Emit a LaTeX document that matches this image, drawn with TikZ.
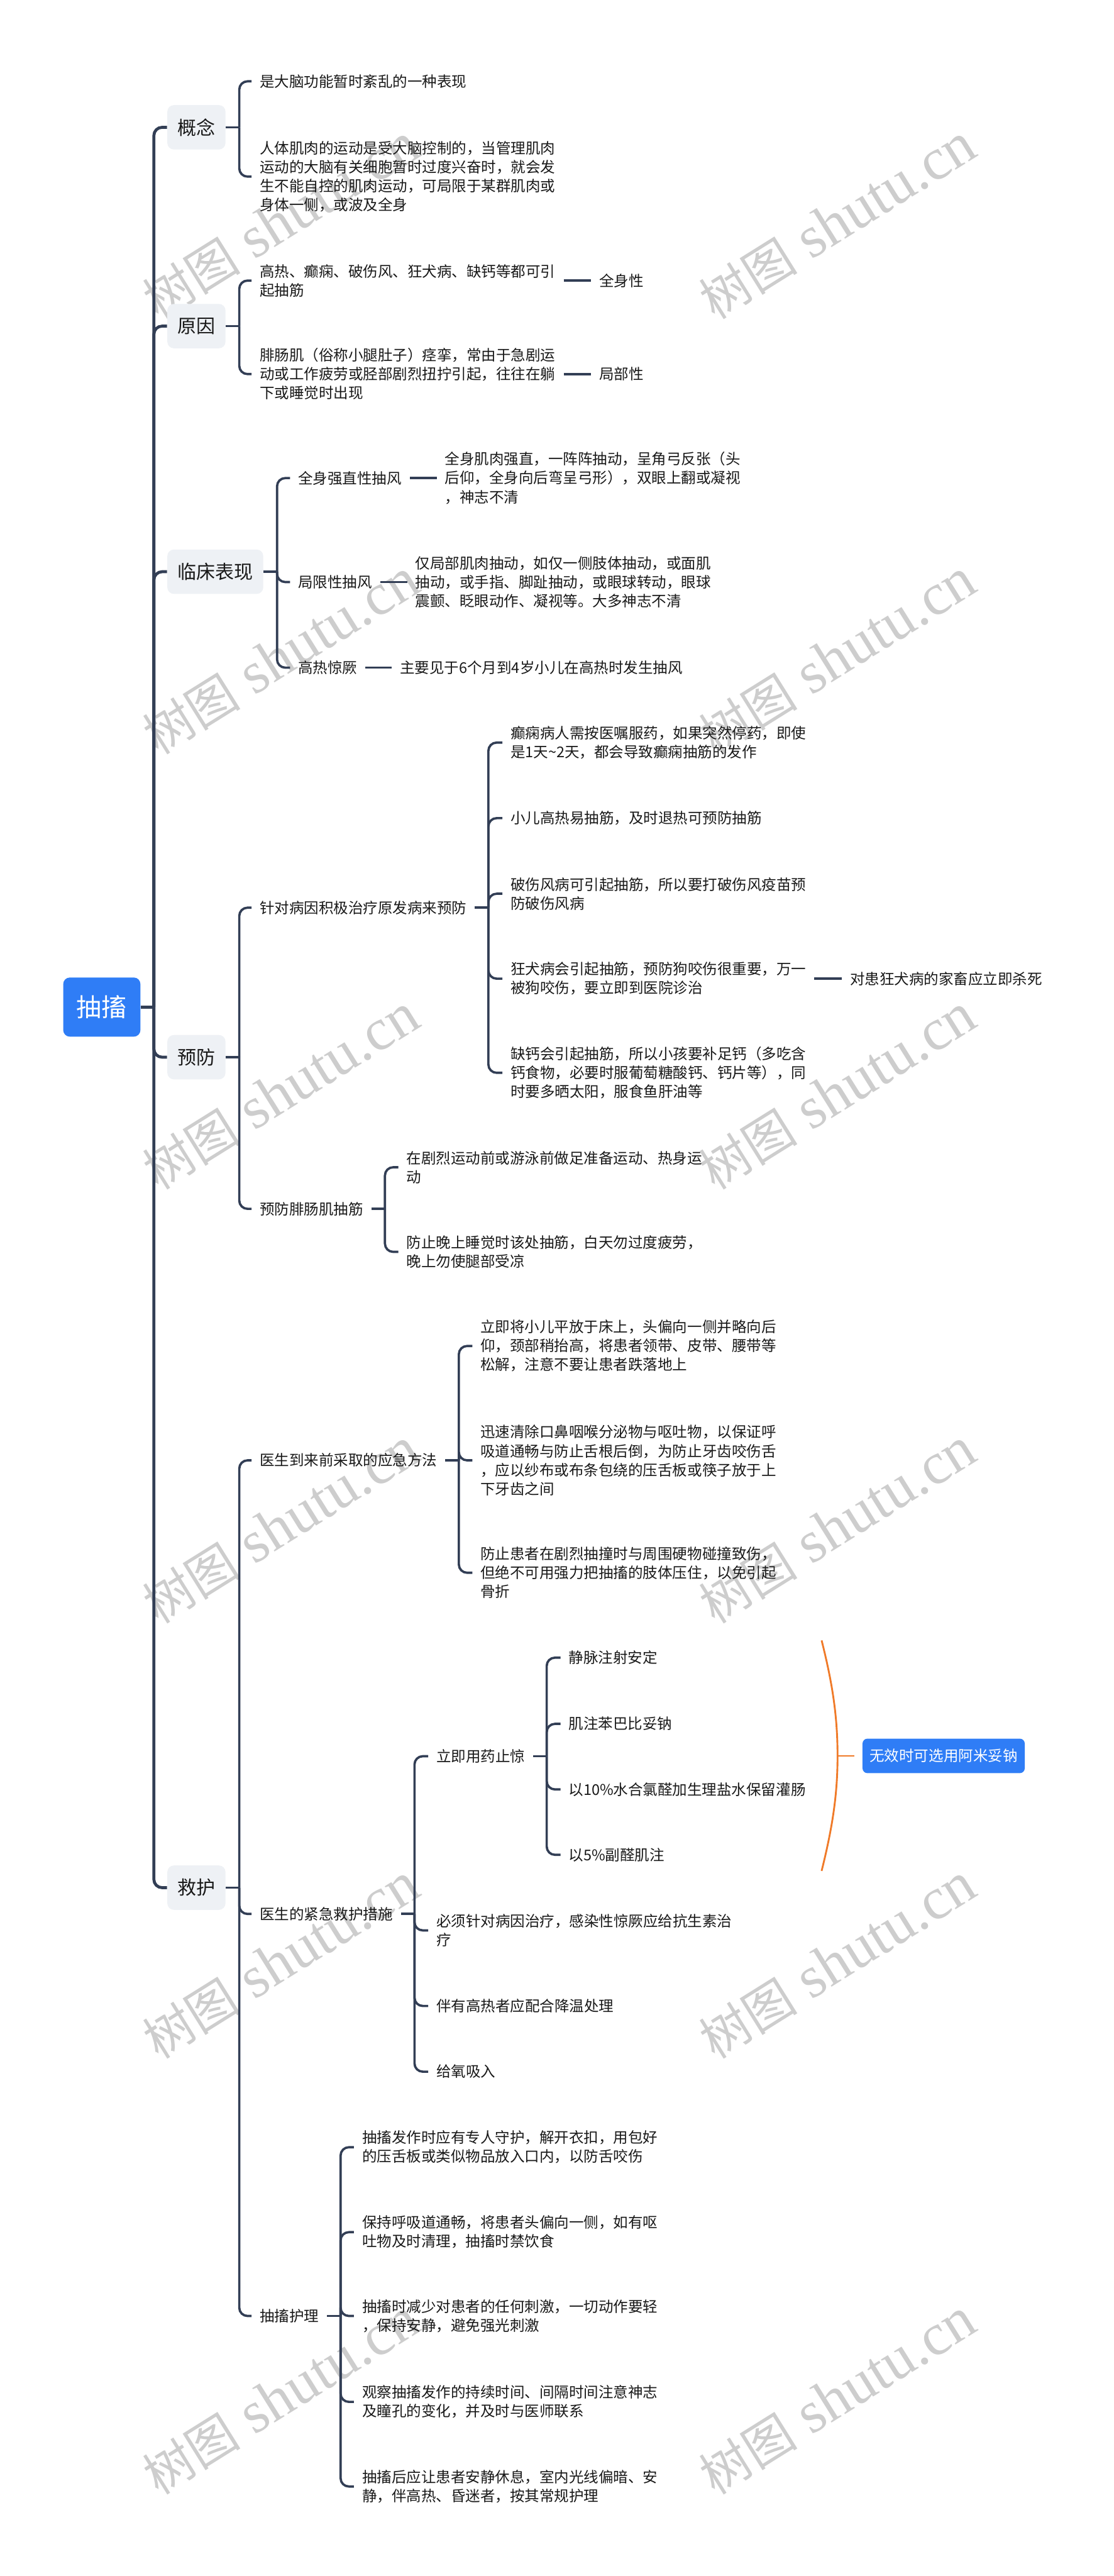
\documentclass[tikz,border=0pt]{standalone}
\usepackage{fontspec}
\setmainfont{Noto Sans CJK SC}
\newfontfamily\wmserif{Liberation Serif}
\definecolor{linec}{RGB}{50,62,85}
\definecolor{boxgray}{RGB}{238,241,245}
\definecolor{mainblue}{RGB}{47,125,246}
\definecolor{orangec}{RGB}{240,122,40}
\definecolor{wmgray}{RGB}{205,205,205}
\newcommand\mystub[1]{\draw[conn] (#1.east) -- ++(8.2,0);}
\newcommand\mybr[2]{\draw[conn, rounded corners=5pt] (#1.east) ++(8.2,0) |- (#2.west);}
\newcommand\wmtext{{\fontsize{30}{30}\selectfont 树图}{\wmserif\fontsize{36}{36}\selectfont\ shutu.cn}}
\begin{document}
\begin{tikzpicture}[x=1pt,y=-1pt,
  leaf/.style={anchor=west, inner xsep=4.8pt, inner ysep=1.5pt, align=left, font=\fontsize{9}{11.5}\selectfont, text=black!90},
  l1box/.style={anchor=west, fill=boxgray, rounded corners=4pt, inner xsep=6.2pt, inner ysep=0pt, minimum height=27pt, font=\fontsize{11.5}{13}\selectfont, text=black!90},
  rootbox/.style={fill=mainblue, rounded corners=4pt, text=white, minimum width=47pt, minimum height=36pt, inner sep=0pt, font=\fontsize{15.3}{17}\selectfont},
  bluebox/.style={anchor=west, fill=mainblue, rounded corners=3pt, text=white, minimum height=21pt, inner xsep=4.4pt, inner ysep=0pt, font=\fontsize{9}{11}\selectfont},
  trunk/.style={draw=linec, line width=1.8pt},
  conn/.style={draw=linec, line width=1.4pt},
  wm/.style={rotate=32, text=wmgray, inner sep=0pt},
  brace/.style={draw=orangec, line width=1.1pt},
]
\fill[white] (0,0) rectangle (678,1568);
\useasboundingbox (0,0) rectangle (678,1568);

% watermarks
\foreach \wy [count=\i] in {135,400,665,929,1194,1459}{
  \node[wm] (wml\i) at (171,\wy) {\wmtext};
  \node[wm] (wmr\i) at (510,\wy) {\wmtext};
}

% root and level 1
\node[rootbox] (root) at (62,613) {抽搐};
\node[l1box] (gainian) at (101.7,77.5) {概念};
\node[l1box] (yuanyin) at (101.7,198.5) {原因};
\node[l1box] (linchuang) at (101.7,348) {临床表现};
\node[l1box] (yufang) at (101.7,643.5) {预防};
\node[l1box] (jiuhu) at (101.7,1149) {救护};

\coordinate (T) at (93.7,613);
\draw[trunk] (root.east) -- (T);
\foreach \n in {gainian,yuanyin,linchuang,yufang,jiuhu}{
  \draw[trunk, rounded corners=5pt] (T) |- (\n.west);
}

% 概念
\node[leaf] (c1) at (153.2,49.5) {是大脑功能暂时紊乱的一种表现};
\node[leaf] (c2) at (153.2,107.5) {人体肌肉的运动是受大脑控制的，当管理肌肉\\运动的大脑有关细胞暂时过度兴奋时，就会发\\生不能自控的肌肉运动，可局限于某群肌肉或\\身体一侧，或波及全身};
\mystub{gainian}\mybr{gainian}{c1}\mybr{gainian}{c2}

% 原因
\node[leaf] (r1) at (153.2,170.8) {高热、癫痫、破伤风、狂犬病、缺钙等都可引\\起抽筋};
\node[leaf] (r1b) at (359.9,170.8) {全身性};
\node[leaf] (r2) at (153.2,227.7) {腓肠肌（俗称小腿肚子）痉挛，常由于急剧运\\动或工作疲劳或胫部剧烈扭拧引起，往往在躺\\下或睡觉时出现};
\node[leaf] (r2b) at (359.9,227.7) {局部性};
\mystub{yuanyin}\mybr{yuanyin}{r1}\mybr{yuanyin}{r2}
\draw[conn] (r1.east) -- (r1b.west);
\draw[conn] (r2.east) -- (r2b.west);

% 临床表现
\node[leaf] (k1) at (176.6,291) {全身强直性抽风};
\node[leaf] (k1b) at (265.9,291) {全身肌肉强直，一阵阵抽动，呈角弓反张（头\\后仰，全身向后弯呈弓形），双眼上翻或凝视\\，神志不清};
\node[leaf] (k2) at (176.6,354.3) {局限性抽风};
\node[leaf] (k2b) at (247.9,354.3) {仅局部肌肉抽动，如仅一侧肢体抽动，或面肌\\抽动，或手指、脚趾抽动，或眼球转动，眼球\\震颤、眨眼动作、凝视等。大多神志不清};
\node[leaf] (k3) at (176.6,406.4) {高热惊厥};
\node[leaf] (k3b) at (238.6,406.4) {主要见于6个月到4岁小儿在高热时发生抽风};
\mystub{linchuang}\mybr{linchuang}{k1}\mybr{linchuang}{k2}\mybr{linchuang}{k3}
\draw[conn] (k1.east) -- (k1b.west);
\draw[conn] (k2.east) -- (k2b.west);
\draw[conn] (k3.east) -- (k3b.west);

% 预防
\node[leaf] (p1) at (153.2,552.5) {针对病因积极治疗原发病来预防};
\node[leaf] (q1) at (305.9,452) {癫痫病人需按医嘱服药，如果突然停药，即使\\是1天\textasciitilde 2天，都会导致癫痫抽筋的发作};
\node[leaf] (q2) at (305.9,498) {小儿高热易抽筋，及时退热可预防抽筋};
\node[leaf] (q3) at (305.9,544) {破伤风病可引起抽筋，所以要打破伤风疫苗预\\防破伤风病};
\node[leaf] (q4) at (305.9,595.7) {狂犬病会引起抽筋，预防狗咬伤很重要，万一\\被狗咬伤，要立即到医院诊治};
\node[leaf] (q4b) at (512.7,595.7) {对患狂犬病的家畜应立即杀死};
\node[leaf] (q5) at (305.9,653) {缺钙会引起抽筋，所以小孩要补足钙（多吃含\\钙食物，必要时服葡萄糖酸钙、钙片等），同\\时要多晒太阳，服食鱼肝油等};
\node[leaf] (p2) at (153.2,735.8) {预防腓肠肌抽筋};
\node[leaf] (s1) at (242.6,710.5) {在剧烈运动前或游泳前做足准备运动、热身运\\动};
\node[leaf] (s2) at (242.6,762) {防止晚上睡觉时该处抽筋，白天勿过度疲劳，\\晚上勿使腿部受凉};
\mystub{yufang}\mybr{yufang}{p1}\mybr{yufang}{p2}
\mystub{p1}\mybr{p1}{q1}\mybr{p1}{q2}\mybr{p1}{q3}\mybr{p1}{q4}\mybr{p1}{q5}
\draw[conn] (q4.east) -- (q4b.west);
\mystub{p2}\mybr{p2}{s1}\mybr{p2}{s2}

% 救护
\node[leaf] (e1) at (153.2,888.9) {医生到来前采取的应急方法};
\node[leaf] (f1) at (287.6,819.3) {立即将小儿平放于床上，头偏向一侧并略向后\\仰，颈部稍抬高，将患者领带、皮带、腰带等\\松解，注意不要让患者跌落地上};
\node[leaf] (f2) at (287.6,888.9) {迅速清除口鼻咽喉分泌物与呕吐物，以保证呼\\吸道通畅与防止舌根后倒，为防止牙齿咬伤舌\\，应以纱布或布条包绕的压舌板或筷子放于上\\下牙齿之间};
\node[leaf] (f3) at (287.6,957.3) {防止患者在剧烈抽撞时与周围硬物碰撞致伤，\\但绝不可用强力把抽搐的肢体压住，以免引起\\骨折};
\mystub{jiuhu}
\mystub{e1}\mybr{e1}{f1}\mybr{e1}{f2}\mybr{e1}{f3}

\node[leaf] (e2) at (153.2,1165) {医生的紧急救护措施};
\node[leaf] (g1) at (260.7,1069) {立即用药止惊};
\node[leaf] (h1) at (341.3,1009) {静脉注射安定};
\node[leaf] (h2) at (341.3,1049.3) {肌注苯巴比妥钠};
\node[leaf] (h3) at (341.3,1089.2) {以10\%水合氯醛加生理盐水保留灌肠};
\node[leaf] (h4) at (341.3,1129) {以5\%副醛肌注};
\node[leaf] (g2) at (260.7,1175) {必须针对病因治疗，感染性惊厥应给抗生素治\\疗};
\node[leaf] (g3) at (260.7,1221) {伴有高热者应配合降温处理};
\node[leaf] (g4) at (260.7,1261) {给氧吸入};
\mystub{e2}\mybr{e2}{g1}\mybr{e2}{g2}\mybr{e2}{g3}\mybr{e2}{g4}
\mystub{g1}\mybr{g1}{h1}\mybr{g1}{h2}\mybr{g1}{h3}\mybr{g1}{h4}

\node[bluebox] (bb) at (525,1068.8) {无效时可选用阿米妥钠};
\coordinate (ob1) at (500.3,998.5);
\coordinate (obm) at (510,1068.8);
\coordinate (ob2) at (500.3,1138.8);
\draw[brace] (ob1) .. controls (507,1025) and (510,1045) .. (obm) .. controls (510,1092) and (507,1112) .. (ob2);
\draw[brace] (obm) -- ([xshift=-4.8pt]bb.west);

\node[leaf] (e3) at (153.2,1409.7) {抽搐护理};
\node[leaf] (n1) at (215.5,1307) {抽搐发作时应有专人守护，解开衣扣，用包好\\的压舌板或类似物品放入口内，以防舌咬伤};
\node[leaf] (n2) at (215.5,1358.7) {保持呼吸道通畅，将患者头偏向一侧，如有呕\\吐物及时清理，抽搐时禁饮食};
\node[leaf] (n3) at (215.5,1409.7) {抽搐时减少对患者的任何刺激，一切动作要轻\\，保持安静，避免强光刺激};
\node[leaf] (n4) at (215.5,1462) {观察抽搐发作的持续时间、间隔时间注意神志\\及瞳孔的变化，并及时与医师联系};
\node[leaf] (n5) at (215.5,1513.5) {抽搐后应让患者安静休息，室内光线偏暗、安\\静，伴高热、昏迷者，按其常规护理};
\mystub{e3}\mybr{e3}{n1}\mybr{e3}{n2}\mybr{e3}{n3}\mybr{e3}{n4}\mybr{e3}{n5}

\mybr{jiuhu}{e1}\mybr{jiuhu}{e2}\mybr{jiuhu}{e3}
\end{tikzpicture}
\end{document}
